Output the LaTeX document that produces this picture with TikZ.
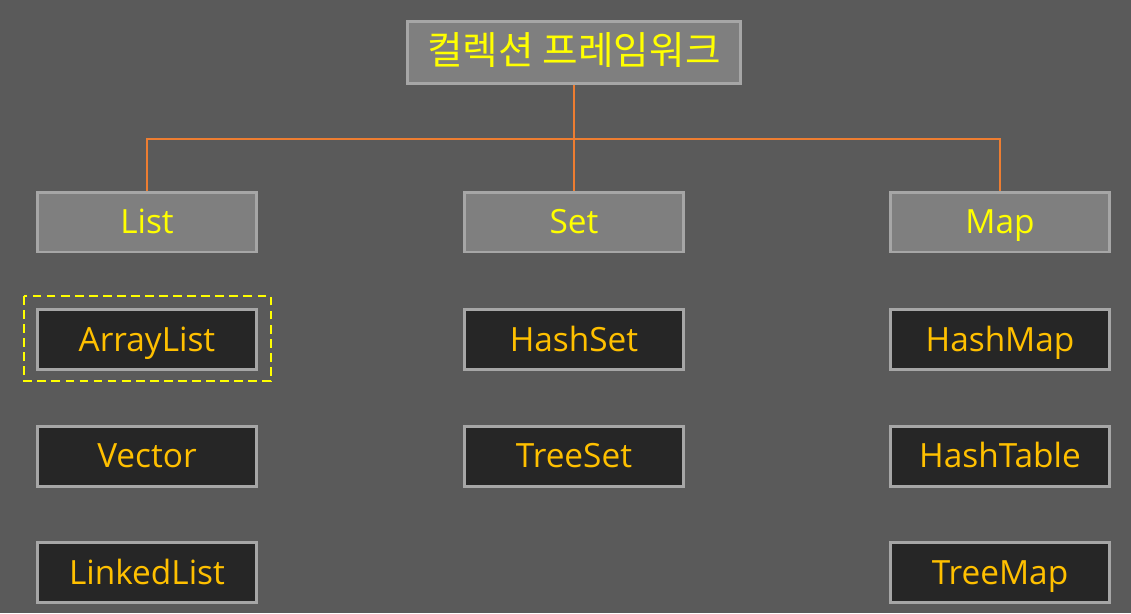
\documentclass[tikz,border=0pt]{standalone}
\usepackage{fontspec}
\setmainfont{Open Sans}
\newfontfamily\kofont{Noto Sans CJK KR}
\usetikzlibrary{positioning,calc}
\definecolor{bgcol}{HTML}{5A5A5A}
\definecolor{headfill}{HTML}{7F7F7F}
\definecolor{itemfill}{HTML}{262626}
\definecolor{boxline}{HTML}{A6A6A6}
\definecolor{headtext}{HTML}{FFFF00}
\definecolor{itemtext}{HTML}{FFC000}
\definecolor{linkcol}{HTML}{ED7D31}

\begin{document}
\begin{tikzpicture}[x=0.02cm,y=-0.02cm,
  headbox/.style={draw=boxline,fill=headfill,line width=1.7pt,text=headtext,
    minimum width=4.38cm,minimum height=1.2cm,inner sep=0pt,
    text height=13.6pt,text depth=0pt,font=\fontsize{19}{22}\selectfont},
  itembox/.style={headbox,fill=itemfill,text=itemtext},
  link/.style={draw=linkcol,line width=0.8pt}]
  % 배경
  \fill[bgcol] (0,0) rectangle (1131,613);
  \useasboundingbox (0,0) rectangle (1131,613);
  % 최상위
  \node[headbox,minimum width=6.68cm,minimum height=1.24cm,text height=13.6pt,
    font=\kofont\fontsize{22}{26}\selectfont] (frame) at (574,52.5) {컬렉션 프레임워크};
  % 인터페이스
  \node[headbox] (list) at (147,222) {List};
  \node[headbox] (set) at (574,222) {Set};
  \node[headbox] (map) at (1000,222) {Map};
  % 구현 클래스
  \node[itembox] (arraylist) at (147,339.5) {ArrayList};
  \node[itembox] (vector) at (147,456) {Vector};
  \node[itembox] (linkedlist) at (147,572.5) {LinkedList};
  \node[itembox] (hashset) at (574,339.5) {HashSet};
  \node[itembox] (treeset) at (574,456) {TreeSet};
  \node[itembox] (hashmap) at (1000,339.5) {HashMap};
  \node[itembox] (hashtable) at (1000,456) {HashTable};
  \node[itembox] (treemap) at (1000,572.5) {TreeMap};
  % 연결선
  \coordinate (branch) at (frame.south |- 0,139);
  \draw[link] (frame.south) -- (branch);
  \draw[link] (list.north) |- (branch) -| (map.north);
  \draw[link] (branch) -- (set.north);
  % 강조
  \draw[headtext,line width=1.2pt,dash pattern=on 5pt off 3pt] (24,296) rectangle (271,381);
\end{tikzpicture}
\end{document}
